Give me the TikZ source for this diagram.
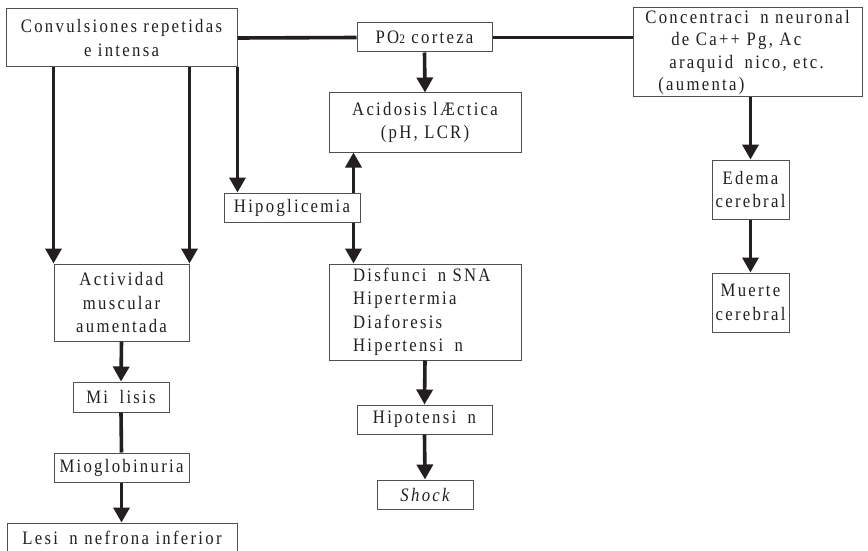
\documentclass[tikz,border=0pt]{standalone}
\usepackage{fontspec}
\setmainfont{Liberation Serif}[FakeStretch=0.88,LetterSpace=12]
\usetikzlibrary{arrows.meta}
\definecolor{ink}{HTML}{231F20}
\definecolor{frame}{HTML}{505050}
% blank left where the accented vowel is not printed
\newcommand\nogl{\hspace{5pt}\ }
\begin{document}
\begin{tikzpicture}[x=1pt,y=-1pt,
  box/.style={draw=frame, line width=1pt, rectangle, inner sep=0pt,
    align=center, text=ink, font=\fontsize{19}{23.5}\selectfont},
  link/.style={draw=ink, line width=3.6pt},
  arr/.style={link, -{Triangle[width=16pt,length=15pt]}}]
\useasboundingbox (0,0) rectangle (868,551);
\fill[white] (0,0) rectangle (868,551);
\clip (0,0) rectangle (868,551);

% boxes
\node[box, minimum width=231pt, minimum height=58pt] (conv) at (121.5,38)
  {Convulsiones repetidas\\e intensa};
\node[box, minimum width=135pt, minimum height=29pt] (po2) at (424.5,37.5)
  {PO{\fontsize{13}{13}\selectfont 2} corteza};
\node[box, minimum width=229pt, minimum height=89pt, align=left,
  font=\fontsize{19}{22.6}\selectfont] (conc) at (747.5,52.5)
  {Concentraci\nogl n neuronal\\\hspace*{26pt}de Ca++ Pg, Ac\\\hspace*{24pt}araquid\nogl nico, etc.\\\hspace*{13pt}(aumenta)};
\node[box, minimum width=192pt, minimum height=59pt] (acid) at (425,122.5)
  {Acidosis lÆctica\\(pH, LCR)};
\node[box, minimum width=136pt, minimum height=29pt] (hipo) at (292,207.5)
  {Hipoglicemia};
\node[box, minimum width=77pt, minimum height=59pt] (edema) at (750.5,189.5)
  {Edema\\cerebral};
\node[box, minimum width=135pt, minimum height=77pt] (act) at (121.5,302.5)
  {Actividad\\muscular\\aumentada};
\node[box, minimum width=192pt, minimum height=96pt, align=left,
  text width=144pt, inner xsep=24pt] (disf) at (425,312)
  {Disfunci\nogl n SNA\\Hipertermia\\Diaforesis\\Hipertensi\nogl n};
\node[box, minimum width=77pt, minimum height=59pt] (muerte) at (750.5,302.5)
  {Muerte\\cerebral};
\node[box, minimum width=96pt, minimum height=30pt] (miol) at (121,397)
  {Mi\nogl lisis};
\node[box, minimum width=135pt, minimum height=29pt] (hipot) at (424.5,419.5)
  {Hipotensi\nogl n};
\node[box, minimum width=135pt, minimum height=29pt] (miog) at (121.5,467.5)
  {Mioglobinuria};
\node[box, minimum width=96pt, minimum height=29pt] (shock) at (425,494.5)
  {\itshape Shock};
\node[box, minimum width=230pt, minimum height=30pt] (lesion) at (122,538)
  {Lesi\nogl n nefrona inferior};

% connectors
\draw[link] (conv.east) -- (po2.west);
\draw[link] (po2.east) -- (po2.east -| conc.west);
\draw[arr] (po2.south) -- (acid.north);
\draw[arr] (conc.south -| edema.north) -- (edema.north);
\draw[arr] (edema.south) -- (muerte.north);
\draw[arr] (act.north west |- conv.south) -- (act.north west);
\draw[arr] (act.north east |- conv.south) -- (act.north east);
\draw[arr] (conv.south east) -- (conv.south east |- hipo.north);
\coordinate (hu) at ([xshift=-7pt]hipo.north east);
\coordinate (hd) at ([xshift=-7pt]hipo.south east);
\draw[arr] (hu) -- (hu |- acid.south);
\draw[arr] (hd) -- (hd |- disf.north);
\draw[arr] (act.south) -- (miol.north);
\draw[link] (miol.south) -- (miog.north);
\draw[arr] (miog.south) -- (miog.south |- lesion.north);
\draw[arr] (disf.south) -- (hipot.north);
\draw[arr] (hipot.south) -- (shock.north);
\end{tikzpicture}
\end{document}
